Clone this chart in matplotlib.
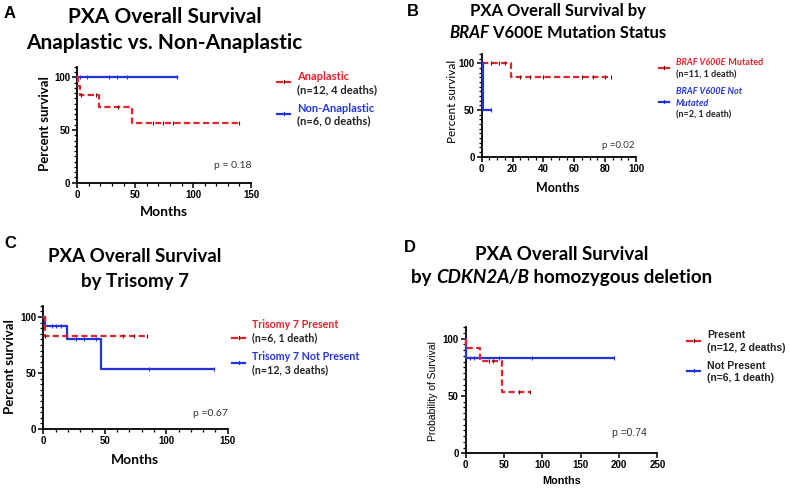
import matplotlib
matplotlib.use('Agg')
import matplotlib.pyplot as plt
from matplotlib.lines import Line2D
from matplotlib.ticker import MultipleLocator
import numpy as np

W, H = 790, 488
RED = '#e42229'
BLUE = '#2233dd'

# ---------------- data ----------------
# Panel A: Anaplastic vs Non-Anaplastic
a_red_t = [0, 0.6, 2, 19, 47, 140]
a_red_s = [100, 91.7, 83.3, 71.4, 57.1, 57.1]
a_red_cens = [3, 16, 35, 65, 74, 83, 140]
a_blue_t = [0, 86]
a_blue_s = [100, 100]
a_blue_cens = [2, 8, 27, 34, 43, 86]

# Panel B: BRAF V600E
b_red_t = [0, 19, 84]
b_red_s = [100, 85.7, 85.7]
b_red_cens = [6, 11, 15, 25, 31, 40, 65, 72, 80, 84]
b_blue_t = [0, 1, 6]
b_blue_s = [100, 50, 50]
b_blue_cens = [6]

# Panel C: Trisomy 7
c_red_t = [0, 1, 84]
c_red_s = [100, 83.3, 83.3]
c_red_cens = [1, 65, 74, 84]
c_blue_t = [0, 1.4, 19, 47, 139]
c_blue_s = [100, 91.7, 80.2, 53.5, 53.5]
c_blue_cens = [7, 10, 14, 27, 33, 43, 86, 139]

# Panel D: CDKN2A/B
d_red_t = [0, 1, 19, 47, 84]
d_red_s = [100, 91.7, 80.2, 53.5, 53.5]
d_red_cens = [30, 36, 69, 84]
d_blue_t = [0, 1, 193]
d_blue_s = [100, 83.3, 83.3]
d_blue_cens = [6, 11, 44, 87, 193]

p_values = ['p = 0.18', 'p =0.02', 'p =0.67', 'p =0.74']

# ---------------- helpers ----------------
fig = plt.figure(figsize=(W / 100, H / 100), dpi=100)
renderer = fig.canvas.get_renderer()

TITLE_FONT = 'Lato'
ARIAL = 'Liberation Sans'


def fx(x):
    return x / W


def fy(y):
    return 1 - y / H


def ftext(x, y, s, **kw):
    return fig.text(fx(x), fy(y), s, **kw)


def chain(x, y, parts, ha='left', **common):
    """parts: list of (text, dict). Drawn left to right on one baseline."""
    texts = []
    for s, kw in parts:
        opts = dict(common)
        opts.update(kw)
        t = fig.text(0, fy(y), s, va='baseline', ha='left', **opts)
        texts.append(t)
    widths = [t.get_window_extent(renderer).width for t in texts]
    total = sum(widths)
    start = x - total / 2 if ha == 'center' else x
    cur = start
    for t, w in zip(texts, widths):
        t.set_x(fx(cur))
        cur += w
    return texts


def surv_at(ts, ss, t):
    idx = np.searchsorted(ts, t, side='right') - 1
    return ss[max(idx, 0)]


def make_ax(l, t, r, b, xmax, xmajor, xminor, yminor=5, tickfont=ARIAL):
    ax = fig.add_axes([fx(l), fy(b), (r - l) / W, (b - t) / H])
    ax.set_xlim(0, xmax)
    ax.set_ylim(0, 110)
    for s in ['top', 'right']:
        ax.spines[s].set_visible(False)
    for s in ['left', 'bottom']:
        ax.spines[s].set_linewidth(1.3)
    ax.xaxis.set_major_locator(MultipleLocator(xmajor))
    if xminor:
        ax.xaxis.set_minor_locator(MultipleLocator(xminor))
    ax.yaxis.set_major_locator(MultipleLocator(50))
    ax.yaxis.set_minor_locator(MultipleLocator(yminor))
    ax.tick_params(which='major', length=3.5, width=1.1, pad=1.5, labelsize=7)
    ax.tick_params(which='minor', length=2, width=0.9)
    for lab in ax.get_xticklabels() + ax.get_yticklabels():
        lab.set_fontfamily(tickfont)
        lab.set_fontweight('bold')
    return ax


def km(ax, ts, ss, cens, color, dashed):
    kw = dict(color=color, lw=1.6, clip_on=False, zorder=3)
    if dashed:
        kw['dashes'] = (2.8, 1.5)
    ax.step(ts, ss, where='post', **kw)
    cs = [surv_at(ts, ss, c) for c in cens]
    ax.plot(cens, cs, ls='none', marker='|', ms=3.2, mew=0.8,
            color='#5a1010' if dashed else color, clip_on=False, zorder=4)


def legend_sample(x1, x2, y, color, dashed):
    if dashed:
        fig.add_artist(Line2D([fx(x1), fx(x1 + 5)], [fy(y), fy(y)], color=color, lw=1.6))
        fig.add_artist(Line2D([fx(x2 - 5), fx(x2)], [fy(y), fy(y)], color=color, lw=1.6))
    else:
        fig.add_artist(Line2D([fx(x1), fx(x2)], [fy(y), fy(y)], color=color, lw=1.6))
    xm = (x1 + x2) / 2
    fig.add_artist(Line2D([fx(xm), fx(xm)], [fy(y - 1.8), fy(y + 0.5)],
                          color='#5a1010' if dashed else color, lw=0.8))


# ---------------- Panel A ----------------
axA = make_ax(77.3, 66.8, 251, 182.7, 150, 50, 10)
km(axA, a_blue_t, a_blue_s, a_blue_cens, BLUE, False)
km(axA, a_red_t, a_red_s, a_red_cens, RED, True)
ftext(10, 13, 'A', fontsize=12, fontweight='bold', family=ARIAL, va='center', ha='center')
ftext(165, 17, 'PXA Overall Survival', fontsize=15, fontweight='bold',
      family=TITLE_FONT, ha='center', va='center')
ftext(164, 43, 'Anaplastic vs. Non-Anaplastic', fontsize=15, fontweight='bold',
      family=TITLE_FONT, ha='center', va='center')
ftext(45, 124, 'Percent survival', rotation=90, fontsize=9.5, fontweight='bold',
      family=TITLE_FONT, ha='center', va='center')
ftext(164, 212, 'Months', fontsize=10, fontweight='bold', family=TITLE_FONT,
      ha='center', va='center')
ftext(252, 166, p_values[0], fontsize=7.5, family=TITLE_FONT, color='#333333',
      ha='right', va='center')
legend_sample(277, 290, 82, RED, True)
ftext(297, 76, 'Anaplastic', fontsize=8, fontweight='bold', family=TITLE_FONT,
      color=RED, va='center')
ftext(297, 90, '(n=12, 4 deaths)', fontsize=8, fontweight='bold', family=TITLE_FONT,
      color='#222222', va='center')
legend_sample(277, 290, 114, BLUE, False)
ftext(297, 108, 'Non-Anaplastic', fontsize=8, fontweight='bold', family=TITLE_FONT,
      color=BLUE, va='center')
ftext(297, 121, '(n=6, 0 deaths)', fontsize=8, fontweight='bold', family=TITLE_FONT,
      color='#222222', va='center')

# ---------------- Panel B ----------------
axB = make_ax(481.7, 54, 636, 156.7, 100, 20, 5)
km(axB, b_red_t, b_red_s, b_red_cens, RED, True)
km(axB, b_blue_t, b_blue_s, b_blue_cens, BLUE, False)
ftext(413, 12, 'B', fontsize=12, fontweight='bold', family=ARIAL, va='center', ha='center')
ftext(558, 11, 'PXA Overall Survival by', fontsize=12, fontweight='bold',
      family=TITLE_FONT, ha='center', va='center')
chain(558, 38, [('BRAF', dict(style='italic')), (' V600E Mutation Status', {})],
      ha='center', fontsize=12, fontweight='bold', family=TITLE_FONT)
ftext(453, 101, 'Percent survival', rotation=90, fontsize=8.5,
      family=TITLE_FONT, ha='center', va='center')
ftext(558, 188, 'Months', fontsize=9, fontweight='bold', family=TITLE_FONT,
      ha='center', va='center')
ftext(634, 146, p_values[1], fontsize=7, family=TITLE_FONT, color='#333333',
      ha='right', va='center')
legend_sample(659, 669, 68, RED, True)
chain(676, 65, [('BRAF V600E', dict(style='italic')), (' Mutated', {})],
      fontsize=6.5, fontweight='bold', family=TITLE_FONT, color=RED)
ftext(676, 75, '(n=11, 1 death)', fontsize=6.5, fontweight='bold', family=TITLE_FONT,
      color='#222222', va='center')
legend_sample(659, 669, 102, BLUE, False)
ftext(676, 91, 'BRAF V600E Not', fontsize=6.5, fontweight='bold', style='italic',
      family=TITLE_FONT, color=BLUE, va='center')
ftext(676, 103, 'Mutated', fontsize=6.5, fontweight='bold', style='italic',
      family=TITLE_FONT, color=BLUE, va='center')
ftext(676, 115, '(n=2, 1 death)', fontsize=6.5, fontweight='bold', family=TITLE_FONT,
      color='#222222', va='center')

# ---------------- Panel C ----------------
axC = make_ax(43.3, 305.7, 227.7, 429, 150, 50, 10)
km(axC, c_blue_t, c_blue_s, c_blue_cens, BLUE, False)
km(axC, c_red_t, c_red_s, c_red_cens, RED, True)
ftext(10, 244, 'C', fontsize=12, fontweight='bold', family=ARIAL, va='center', ha='center')
ftext(135, 257, 'PXA Overall Survival', fontsize=13.5, fontweight='bold',
      family=TITLE_FONT, ha='center', va='center')
ftext(135, 282, 'by Trisomy 7', fontsize=13.5, fontweight='bold',
      family=TITLE_FONT, ha='center', va='center')
ftext(10, 367, 'Percent survival', rotation=90, fontsize=9.5, fontweight='bold',
      family=TITLE_FONT, ha='center', va='center')
ftext(135, 460, 'Months', fontsize=10, fontweight='bold', family=TITLE_FONT,
      ha='center', va='center')
ftext(228, 414, p_values[2], fontsize=7.5, family=TITLE_FONT, color='#333333',
      ha='right', va='center')
legend_sample(232, 245, 338, RED, True)
ftext(252, 324, 'Trisomy 7 Present', fontsize=7.7, fontweight='bold', family=TITLE_FONT,
      color=RED, va='center')
ftext(252, 338, '(n=6, 1 death)', fontsize=7.7, fontweight='bold', family=TITLE_FONT,
      color='#222222', va='center')
legend_sample(232, 245, 363, BLUE, False)
ftext(252, 356, 'Trisomy 7 Not Present', fontsize=7.7, fontweight='bold', family=TITLE_FONT,
      color=BLUE, va='center')
ftext(252, 370, '(n=12, 3 deaths)', fontsize=7.7, fontweight='bold', family=TITLE_FONT,
      color='#222222', va='center')

# ---------------- Panel D ----------------
axD = make_ax(465.7, 327.3, 657.3, 453.3, 250, 50, None)
km(axD, d_blue_t, d_blue_s, d_blue_cens, BLUE, False)
km(axD, d_red_t, d_red_s, d_red_cens, RED, True)
ftext(410, 247, 'D', fontsize=12, fontweight='bold', family=ARIAL, va='center', ha='center')
ftext(562, 255, 'PXA Overall Survival', fontsize=13.5, fontweight='bold',
      family=TITLE_FONT, ha='center', va='center')
chain(562, 283, [('by ', {}), ('CDKN2A/B', dict(style='italic')),
                 (' homozygous deletion', {})],
      ha='center', fontsize=13.5, fontweight='bold', family=TITLE_FONT)
ftext(433, 391, 'Probability of Survival', rotation=90, fontsize=7.5,
      family=ARIAL, ha='center', va='center')
ftext(562, 481, 'Months', fontsize=7.8, fontweight='bold', family=ARIAL,
      ha='center', va='center')
ftext(647, 433, p_values[3], fontsize=7.5, family=ARIAL, color='#333333',
      ha='right', va='center')
legend_sample(687, 700, 341, RED, True)
ftext(707, 335, 'Present', fontsize=7.5, fontweight='bold', family=ARIAL,
      color='#222222', va='center')
ftext(707, 348, '(n=12, 2 deaths)', fontsize=7.5, fontweight='bold', family=ARIAL,
      color='#222222', va='center')
legend_sample(687, 700, 371, BLUE, False)
ftext(707, 366, 'Not Present', fontsize=7.5, fontweight='bold', family=ARIAL,
      color='#222222', va='center')
ftext(707, 378, '(n=6, 1 death)', fontsize=7.5, fontweight='bold', family=ARIAL,
      color='#222222', va='center')

fig.savefig('out.png', dpi=100)
